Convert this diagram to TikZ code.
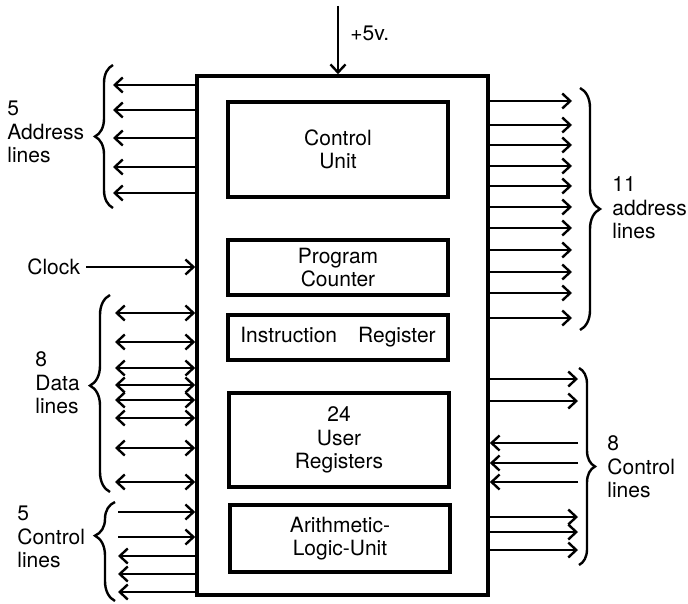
\documentclass[tikz,border=0pt]{standalone}
\usepackage{fontspec}
\setmainfont{TeX Gyre Heros}
\usetikzlibrary{arrows.meta,decorations.pathreplacing}

\begin{document}
\begin{tikzpicture}[x=0.5pt, y=-0.5pt,
    >={Straight Barb[length=4pt,width=7.5pt]},
    every node/.style={font=\fontsize{10.5}{11.8}\selectfont},
    unit/.style={draw, line width=1.7pt, minimum width=110pt, align=center},
    lbl/.style={anchor=west, inner sep=0pt, align=left},
    wire/.style={line width=1.2pt},
    bus/.style={decorate, decoration={brace, amplitude=#1}, line width=1.2pt},
    bus/.default=10pt]
    \useasboundingbox (0,0) rectangle (688,603);
    \node[draw, line width=1.8pt, minimum width=145.5pt, minimum height=259.5pt] (cpu) at (342.5,335.5) {};
    \node[unit, minimum height=47.5pt] (ctrlunit) at (338,149.5) {Control\\Unit};
    \node[unit, minimum height=27.5pt] (progctr) at (338,267.5) {Program\\Counter};
    \node[unit, minimum height=22.5pt] (instreg) at (338,337.5) {Instruction\hspace{1em}Register};
    \node[unit, minimum height=47pt] (userreg) at (339,440) {24\\User\\Registers};
    \node[unit, minimum height=33.5pt] (alu) at (340,538.5) {Arithmetic-\\Logic-Unit};

    \coordinate (pwr) at (338,6);
    \draw[->, wire] (pwr) -- (pwr |- cpu.north);
    \node[lbl] (pwrtext) at (350,33) {+5v.};

    \foreach \y in {85,110,138,167,193} {
        \coordinate (addr) at (113,\y);
        \draw[->, wire] (addr -| cpu.west) -- (addr);
    }
    \draw[bus=9pt] (113,208) -- (113,65);
    \node[lbl] (addrtext) at (7,132) {5\\Address\\lines};

    \node[lbl] (clocktext) at (27,267) {Clock};
    \draw[->, wire] ([xshift=3pt]clocktext.east) -- (clocktext -| cpu.west);

    \foreach \y in {313,342,368,385,400,418,448,482} {
        \coordinate (data) at (115,\y);
        \draw[<->, wire] (data) -- (data -| cpu.west);
    }
    \draw[bus, decoration={aspect=0.54}] (110,492) -- (110,295);
    \node[lbl] (datatext) at (35,383) {8\\Data\\lines};

    \foreach \y in {512,537} {
        \coordinate (ctl) at (118,\y);
        \draw[->, wire] (ctl) -- (ctl -| cpu.west);
    }
    \foreach \y in {556,574,592} {
        \coordinate (ctl) at (118,\y);
        \draw[->, wire] (ctl -| cpu.west) -- (ctl);
    }
    \draw[bus, decoration={aspect=0.66}] (115,601) -- (115,502);
    \node[lbl] (ctltext) at (17,537) {5\\Control\\lines};

    \foreach \y in {101,125,145,166,186,207,228,250,272,293,318} {
        \coordinate (addr) at (572,\y);
        \draw[->, wire] (addr -| cpu.east) -- (addr);
    }
    \draw[bus] (580,88) -- (580,330);
    \node[lbl] (addrtextr) at (612,208) {11\\address\\lines};

    \foreach \y in {379,401,517,532,550} {
        \coordinate (ctl) at (578,\y);
        \draw[->, wire] (ctl -| cpu.east) -- (ctl);
    }
    \foreach \y in {443,463,482} {
        \coordinate (ctl) at (578,\y);
        \draw[->, wire] (ctl) -- (ctl -| cpu.east);
    }
    \draw[bus=8pt] (579,368) -- (579,565);
    \node[lbl] (ctltextr) at (607,467) {8\\Control\\lines};
  \end{tikzpicture}
\end{document}
